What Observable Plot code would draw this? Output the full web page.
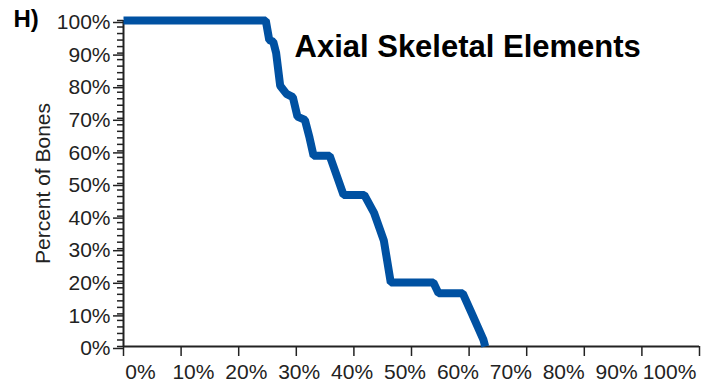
<!DOCTYPE html>
<html>
<head>
<meta charset="utf-8">
<script src="https://cdn.jsdelivr.net/npm/d3@7"></script>
<script src="https://cdn.jsdelivr.net/npm/@observablehq/plot@0.6"></script>
<style>
  html, body { margin: 0; padding: 0; background: #fff; }
  #chart { width: 707px; height: 389px; overflow: hidden; }
</style>
</head>
<body>
<div id="chart"></div>
<script>
// Percent of element length (x) vs percent of bones remaining (y)
const pctLength = [0, 24.7, 25.3, 26.0, 26.5, 27.2, 28.3, 29.4, 30.2, 31.5, 32.3, 33.0, 35.8, 38.2, 41.8, 43.5, 44.5, 45.2, 46.4, 53.8, 54.7, 58.9, 60.5, 61.5, 62.5, 62.8];
const pctBones  = [100, 100, 94, 93.5, 90, 80, 77.5, 76.5, 70.5, 69.5, 64, 58.5, 58.5, 46.5, 46.5, 41, 36, 32.5, 19.6, 19.6, 16.3, 16.3, 10, 6, 2, 0];
const xTicks = [0, 10, 20, 30, 40, 50, 60, 70, 80, 90, 100];
const yTicks = [0, 10, 20, 30, 40, 50, 60, 70, 80, 90, 100];
const yMinorTicks = d3.range(0, 101, 2);
const panelLabel = "H)";
const nextPanelLabel = "I)";
const title = "Axial Skeletal Elements";
const yLabel = "Percent of Bones";

const data = pctLength.map((x, i) => ({x, y: pctBones[i]}));
const pct = d => d + "%";
const font = "'Liberation Sans', Arial, sans-serif";
// the original's x labels are spaced slightly tighter than its ticks
const labelShift = 2.95, labelSquash = 0.9184;

const chart = Plot.plot({
  width: 707,
  height: 389,
  marginLeft: 123,
  marginRight: 8,
  marginTop: 20,
  marginBottom: 43,
  style: {fontFamily: font, fontSize: "21px", color: "#222", background: "#fff", overflow: "visible"},
  x: {domain: [0, 100]},
  y: {domain: [0, 100]},
  marks: [
    Plot.axisY({ticks: yMinorTicks, tickSize: 6, text: null, label: null, stroke: "#222", strokeWidth: 1.5}),
    Plot.axisY({ticks: yTicks, tickSize: 10, tickPadding: 3, tickFormat: pct, label: null, fontSize: 21, stroke: "#222", strokeWidth: 1.5, dy: 2}),
    Plot.axisX({ticks: xTicks, tickSize: 10, text: null, label: null, stroke: "#222", strokeWidth: 1.5}),
    Plot.text(xTicks, {x: d => labelShift + labelSquash * d, text: pct, frameAnchor: "bottom", textAnchor: "middle", lineAnchor: "top", dy: 18, fontSize: 21, fill: "#222"}),
    Plot.ruleX([0], {stroke: "#222", strokeWidth: 2}),
    Plot.ruleY([0], {stroke: "#222", strokeWidth: 2}),
    Plot.line(data, {x: "x", y: "y", stroke: "#0051a2", strokeWidth: 8, strokeLinejoin: "miter", strokeLinecap: "butt"}),
    Plot.text([title], {frameAnchor: "top-left", dx: 171, dy: 14, textAnchor: "start", lineAnchor: "top", fontSize: 31, fontWeight: "bold", fill: "#000"}),
    Plot.text([panelLabel], {frameAnchor: "top-left", dx: -110, dy: -11, textAnchor: "start", lineAnchor: "top", fontSize: 24, fontWeight: "bold", fill: "#000"}),
    Plot.text([nextPanelLabel], {frameAnchor: "bottom-left", dx: -86, dy: 82, textAnchor: "start", lineAnchor: "top", fontSize: 22, fontWeight: "bold", fill: "#000"}),
    Plot.text([yLabel], {frameAnchor: "left", dx: -80, rotate: -90, textAnchor: "middle", fontSize: 21, fill: "#222"})
  ]
});
document.getElementById("chart").appendChild(chart);
</script>
</body>
</html>
